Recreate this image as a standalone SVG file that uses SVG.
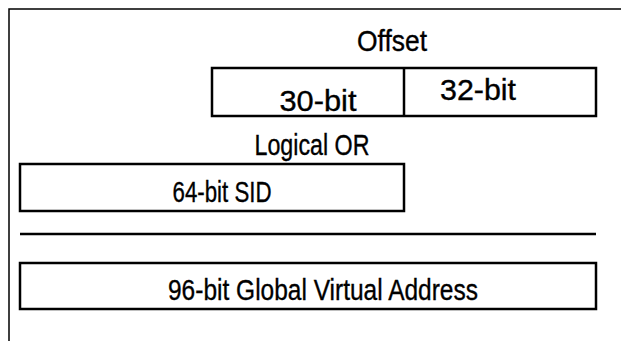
<svg xmlns="http://www.w3.org/2000/svg" width="621" height="341" viewBox="0 0 621 341">
<style>
.box{fill:#fff;stroke:#000;stroke-width:2.5}
.t{font-family:"Liberation Sans",Arial,sans-serif;font-size:29px;fill:#000;stroke:#000;stroke-width:0.35;text-anchor:middle}
.ln{stroke:#000;stroke-width:2.5;fill:none}
</style>
<rect width="621" height="341" fill="#fff"/>
<g id="frame">
<path d="M9,341 V9 H621" fill="none" stroke="#000" stroke-width="1.5"/>
</g>
<g id="offset-label"><text class="t" x="392" y="51" textLength="70" lengthAdjust="spacingAndGlyphs">Offset</text></g>
<g id="offset">
<rect class="box" x="212" y="68" width="384" height="48"/>
<line class="ln" x1="404" y1="68" x2="404" y2="116"/>
<text class="t" x="318" y="111" textLength="77" lengthAdjust="spacingAndGlyphs">30-bit</text>
<text class="t" x="478" y="100" textLength="76" lengthAdjust="spacingAndGlyphs">32-bit</text>
</g>
<g id="or-label"><text class="t" x="312" y="155" textLength="115" lengthAdjust="spacingAndGlyphs">Logical OR</text></g>
<g id="sid">
<rect class="box" x="20" y="164" width="384" height="47"/>
<text class="t" x="222" y="202" textLength="99" lengthAdjust="spacingAndGlyphs">64-bit SID</text>
</g>
<g id="connectors">
<line class="ln" x1="20" y1="234" x2="596" y2="234"/>
</g>
<g id="gva">
<rect class="box" x="20" y="263" width="576" height="46"/>
<text class="t" x="323" y="300" textLength="310" lengthAdjust="spacingAndGlyphs">96-bit Global Virtual Address</text>
</g>
</svg>
